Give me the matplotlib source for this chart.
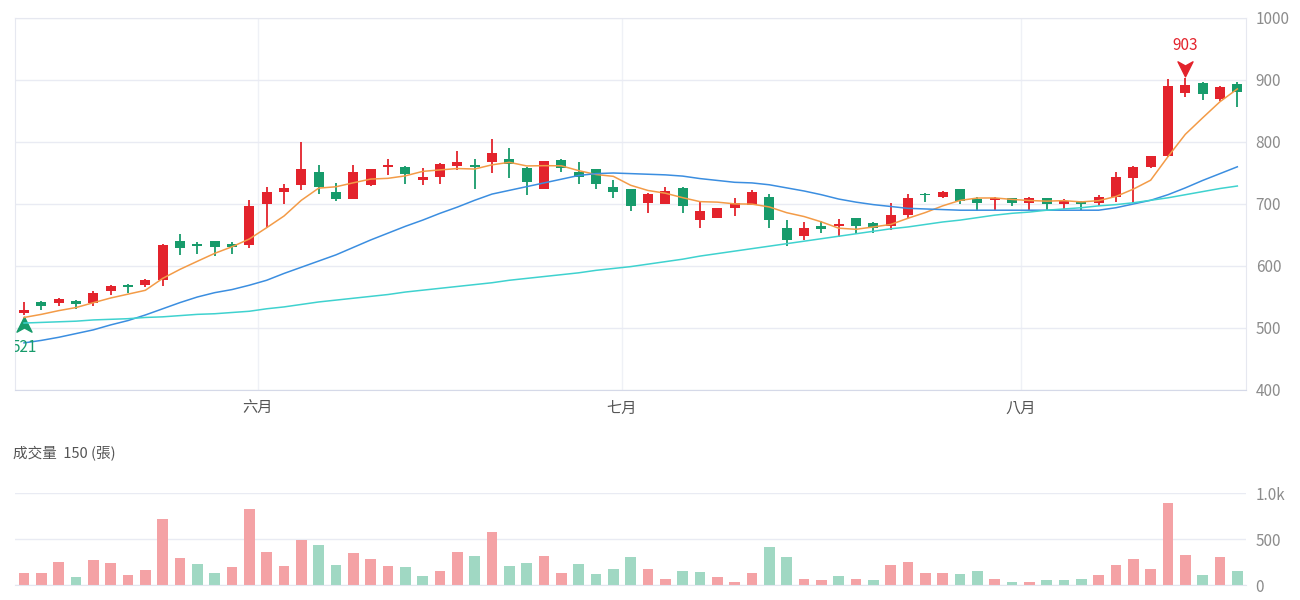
import numpy as np
import pandas as pd
import matplotlib
matplotlib.use("Agg")
import matplotlib.pyplot as plt
from matplotlib.path import Path
from matplotlib.transforms import offset_copy

plt.rcParams['font.family'] = ['Noto Sans CJK TC', 'DejaVu Sans']

# daily candles
opens = [524, 542, 540, 544, 541, 559, 570, 569, 577, 640,
         636, 640, 636, 634, 700, 719, 730, 751, 720, 708,
         730, 759, 760, 739, 744, 762, 763, 767, 772, 758,
         725, 771, 752, 756, 728, 724, 702, 700, 726, 675,
         677, 693, 698, 712, 662, 649, 665, 665, 677, 670,
         665, 682, 716, 712, 724, 708, 706, 709, 701, 709,
         700, 704, 702, 712, 742, 759, 778, 879, 895, 870,
         894]
highs = [542, 543, 548, 545, 559, 569, 571, 579, 636, 652,
         639, 640, 638, 706, 728, 732, 800, 763, 734, 763,
         757, 773, 761, 758, 766, 785, 773, 805, 790, 759,
         770, 773, 767, 757, 739, 725, 718, 728, 727, 703,
         694, 709, 722, 716, 674, 671, 673, 676, 678, 671,
         701, 716, 717, 721, 725, 711, 711, 710, 711, 710,
         708, 705, 715, 752, 761, 778, 901, 903, 896, 891,
         896]
lows = [521, 529, 535, 531, 536, 554, 557, 566, 568, 618,
        619, 616, 619, 629, 662, 700, 723, 716, 705, 708,
        729, 747, 733, 730, 733, 755, 725, 750, 742, 715,
        725, 751, 733, 725, 710, 689, 686, 700, 686, 662,
        677, 681, 698, 661, 633, 642, 654, 647, 651, 653,
        658, 677, 703, 710, 700, 689, 690, 697, 690, 690,
        692, 690, 696, 704, 701, 758, 776, 873, 867, 866,
        857]
closes = [529, 535, 546, 538, 556, 567, 566, 577, 634, 629,
          632, 630, 630, 697, 720, 726, 757, 728, 708, 752,
          756, 763, 748, 744, 764, 767, 759, 782, 764, 735,
          769, 758, 743, 733, 720, 697, 716, 721, 697, 688,
          693, 702, 719, 674, 642, 662, 659, 668, 665, 661,
          682, 709, 714, 719, 705, 701, 710, 702, 710, 700,
          705, 700, 712, 744, 759, 777, 890, 892, 877, 889,
          880]

volumes = [130, 130, 245, 85, 270, 235, 107, 162, 713, 294,
           228, 129, 191, 824, 360, 206, 493, 430, 221, 346,
           283, 210, 195, 96, 147, 364, 313, 574, 206, 235,
           320, 132, 228, 125, 173, 301, 169, 66, 154, 143,
           88, 37, 129, 415, 305, 70, 55, 99, 62, 59,
           213, 254, 129, 129, 121, 147, 66, 37, 33, 59,
           59, 62, 114, 217, 279, 169, 893, 324, 110, 305,
           150]
# u = red volume bar, d = green volume bar
vol_dir = ("uuuduuuuuu" "dduuuuuddu" "uudduududd" "uudddduudd"
           "uuudduudud" "uuuuddudud" "dduuuuuudud")

# moving averages: MA5 first values, MA20 and MA60
ma5_head = [517, 522, 528, 533]
ma20 = [476, 480, 485, 491, 497, 505, 512, 521, 531, 541,
        550, 557, 562, 569, 577, 588, 598, 608, 618, 630,
        642, 653, 664, 674, 685, 695, 706, 716, 722, 728,
        734, 740, 746, 749, 750, 749, 748, 747, 745, 741,
        738, 735, 734, 731, 726, 721, 715, 708, 703, 699,
        696, 693, 692, 691, 690, 690, 690, 690, 690, 690,
        690, 690, 690, 694, 700, 706, 715, 726, 738, 749,
        760]
ma60 = [508, 509, 510, 511, 513, 514, 515, 517, 518, 520,
        522, 523, 525, 527, 531, 534, 538, 542, 545, 548,
        551, 554, 558, 561, 564, 567, 570, 573, 577, 580,
        583, 586, 589, 593, 596, 599, 603, 607, 611, 616,
        620, 624, 628, 632, 636, 640, 644, 648, 652, 656,
        660, 663, 667, 671, 674, 678, 682, 685, 687, 690,
        692, 694, 697, 699, 702, 706, 710, 715, 720, 725,
        729]

month_labels = ['六月', '七月', '八月']
month_pos = [13.5, 34.5, 57.5]
price_ticks = [400, 500, 600, 700, 800, 900, 1000]

RED = '#e3232c'
GREEN = '#179b6b'
RED_V = '#f4a2a5'
GREEN_V = '#a0d8c3'
GRID = '#e9ebf3'

n = len(closes)
idx = np.arange(n)
o = np.array(opens)
c = np.array(closes)
h = np.array(highs)
l = np.array(lows)

ma5 = pd.Series(closes, dtype=float).rolling(5).mean()
ma5.iloc[:4] = ma5_head

fig = plt.figure(figsize=(13, 6), dpi=100)
W, H = 1300, 600
ax = fig.add_axes([15 / W, 1 - 390 / H, 1231 / W, 372 / H])
axv = fig.add_axes([15 / W, 1 - 585 / H, 1231 / W, 92 / H])

# price panel
up = c >= o
cols = np.where(up, RED, GREEN)
ax.vlines(idx, l, h, colors=cols, lw=1.3, zorder=2)
body_low = np.minimum(o, c)
body_h = np.maximum(np.abs(c - o), 1.2)
ax.bar(idx, body_h, bottom=body_low, width=0.56, color=cols, zorder=2)

ax.plot(idx, ma5, color='#f39b47', lw=1.1, zorder=3)
ax.plot(idx, ma20, color='#3b8ee0', lw=1.1, zorder=3)
ax.plot(idx, ma60, color='#3fd2cf', lw=1.1, zorder=3)

ax.set_xlim(-0.52, n - 0.5)
ax.set_ylim(400, 1000)
ax.set_yticks(price_ticks)
ax.yaxis.tick_right()
ax.tick_params(axis='y', length=0, pad=7, labelsize=11, labelcolor='#8c8c8c')
ax.set_xticks(month_pos, month_labels)
ax.tick_params(axis='x', length=0, pad=7, labelsize=11, labelcolor='#555555')
ax.grid(axis='y', color=GRID, lw=1, zorder=0)
ax.grid(axis='x', color='#eff1f6', lw=1, zorder=0)
ax.set_axisbelow(True)
for s in ['left', 'right', 'top']:
    ax.spines[s].set_color('#e6e8f0')
ax.spines['bottom'].set_color('#d5d9e8')

# max / min markers
up_arrow = Path([(0, 1), (0.9, -0.8), (0, -0.3), (-0.9, -0.8), (0, 1)],
                [Path.MOVETO, Path.LINETO, Path.LINETO, Path.LINETO, Path.CLOSEPOLY])
down_arrow = Path([(0, -1), (0.9, 0.8), (0, 0.3), (-0.9, 0.8), (0, -1)],
                  [Path.MOVETO, Path.LINETO, Path.LINETO, Path.LINETO, Path.CLOSEPOLY])
imax = int(np.argmax(h))
imin = int(np.argmin(l))
t = offset_copy(ax.transData, fig=fig, x=0, y=10.5, units='dots')
ax.plot(imax, h[imax], marker=down_arrow, ms=12, color=RED, transform=t, clip_on=False)
t = offset_copy(ax.transData, fig=fig, x=0, y=33, units='dots')
ax.text(imax, h[imax], f'{h[imax]}', color=RED, fontsize=11, ha='center', va='center',
        transform=t)
t = offset_copy(ax.transData, fig=fig, x=0, y=-10, units='dots')
ax.plot(imin, l[imin], marker=up_arrow, ms=12, color=GREEN, transform=t, clip_on=False)
t = offset_copy(ax.transData, fig=fig, x=0, y=-33, units='dots')
ax.text(imin, l[imin], f'{l[imin]}', color=GREEN, fontsize=11, ha='center', va='center',
        transform=t, clip_on=True)

# volume panel
vcols = [RED_V if v == 'u' else GREEN_V for v in vol_dir]
axv.bar(idx, volumes, width=0.6, color=vcols, zorder=2)
axv.set_xlim(-0.52, n - 0.5)
axv.set_ylim(0, 1000)
axv.set_yticks([0, 500, 1000], ['0', '500', '1.0k'])
axv.yaxis.tick_right()
axv.tick_params(axis='y', length=0, pad=7, labelsize=11, labelcolor='#8c8c8c')
axv.set_xticks([])
axv.grid(axis='y', color=GRID, lw=1, zorder=0)
axv.set_axisbelow(True)
for s in ['left', 'right', 'top']:
    axv.spines[s].set_visible(False)
axv.spines['bottom'].set_color('#e3e6ef')

fig.text(13 / W, 1 - 454 / H, f'成交量  {volumes[-1]} (張)', fontsize=10.5,
         color='#555555', ha='left', va='center')

fig.savefig('out.png', dpi=100)
